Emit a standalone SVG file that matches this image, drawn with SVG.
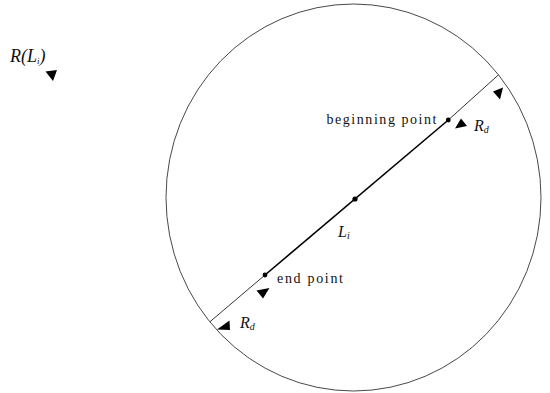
<svg xmlns="http://www.w3.org/2000/svg" width="550" height="393" viewBox="0 0 550 393">
<style>
.lbl{font-family:"Liberation Serif","DejaVu Serif",serif;fill:#111;}
.it{font-style:italic;}
.tri{fill:#000;}
.dot{fill:#000;}
</style>
<rect width="550" height="393" fill="#fff"/>
<g id="region">
<ellipse cx="353.5" cy="197.5" rx="187.5" ry="193.5" fill="none" stroke="#333" stroke-width="0.9"/>
</g>
<g id="connectors">
<line x1="210" y1="321.7" x2="265" y2="275" stroke="#000" stroke-width="0.8"/>
<line x1="448.3" y1="120" x2="498.3" y2="75" stroke="#000" stroke-width="0.8"/>
<line x1="265" y1="275" x2="448.3" y2="120" stroke="#000" stroke-width="1.6"/>
</g>
<g id="legend-R">
<text class="lbl it" x="10" y="62" font-size="18">R(L<tspan font-size="9" dy="2">i</tspan><tspan dy="-2">)</tspan></text>
<polygon class="tri" points="45.5,71.5 57,70 53,81"/>
</g>
<g id="segment-Li">
<circle class="dot" cx="355" cy="199" r="2.6"/>
<text class="lbl it" x="338" y="237" font-size="16">L<tspan font-size="10" dy="2">i</tspan></text>
</g>
<g id="beginning-point">
<circle class="dot" cx="448.3" cy="120" r="2.4"/>
<text class="lbl" x="326.5" y="124" font-size="14" textLength="110" lengthAdjust="spacing">beginning point</text>
</g>
<g id="end-point">
<circle class="dot" cx="265" cy="275" r="2.4"/>
<text class="lbl" x="277" y="283" font-size="14" textLength="66" lengthAdjust="spacing">end point</text>
<polygon class="tri" points="256.5,290.5 269.5,288 263,298.5"/>
</g>
<g id="Rd-top">
<polygon class="tri" points="493,91.5 503,87.5 500,99.5"/>
<polygon class="tri" points="455,128.5 461,118.5 467,126"/>
<text class="lbl it" x="474" y="131" font-size="16">R<tspan font-size="10" dy="2">d</tspan></text>
</g>
<g id="Rd-bottom">
<polygon class="tri" points="217,329.5 229.5,320.5 230,330"/>
<text class="lbl it" x="240" y="328" font-size="16">R<tspan font-size="10" dy="2">d</tspan></text>
</g>
</svg>
